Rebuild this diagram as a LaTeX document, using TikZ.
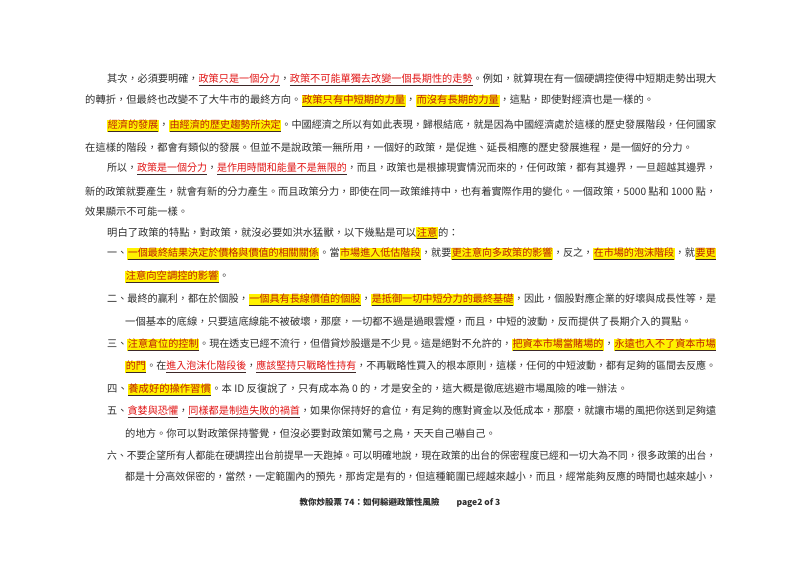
\documentclass[tikz,border=0pt]{standalone}
\usepackage{fontspec}
\setmainfont{Noto Sans CJK TC}
\usetikzlibrary{positioning}
\definecolor{hlred}{RGB}{225,20,20}
\definecolor{hltext}{RGB}{190,30,10}
\definecolor{hlline}{RGB}{60,40,40}
\definecolor{bodygray}{RGB}{45,45,45}
\newsavebox\fitbox
% stretch a full line to the right margin
\newcommand\fitline[2]{\sbox\fitbox{#2}\pgfmathsetmacro\fitratio{#1/\the\wd\fitbox}\scalebox{\fitratio}[1]{\usebox\fitbox}}
\newcommand\hy[1]{{\setlength\fboxsep{0.6pt}\colorbox{yellow}{\color{hlline}\underline{\textcolor{hltext}{#1}}}}}
\newcommand\hr[1]{{\color{hlline}\underline{\textcolor{hlred}{#1}}}}
\begin{document}
\begin{tikzpicture}[x=1pt,y=-1pt,
  row/.style={anchor=west,inner sep=0pt,text=bodygray,font=\fontsize{10.3}{12}\selectfont}]
\useasboundingbox (0,0) rectangle (800,566);
% paragraphs
\node[row] (l1) at (107,80) {\fitline{609pt}{其次，必須要明確，\hr{政策只是一個分力}，\hr{政策不可能單獨去改變一個長期性的走勢}。例如，就算現在有一個硬調控使得中短期走勢出現大}};
\node[row] (l2) at (85,101) {的轉折，但最終也改變不了大牛市的最終方向。\hy{政策只有中短期的力量}，\hy{而沒有長期的力量}，這點，即使對經濟也是一樣的。};
\node[row] (l3) at (107,126) {\fitline{609pt}{\hy{經濟的發展}，\hy{由經濟的歷史趨勢所決定}。中國經濟之所以有如此表現，歸根結底，就是因為中國經濟處於這樣的歷史發展階段，任何國家}};
\node[row] (l4) at (85,148) {在這樣的階段，都會有類似的發展。但並不是說政策一無所用，一個好的政策，是促進、延長相應的歷史發展進程，是一個好的分力。};
\node[row] (l5) at (107,169) {\fitline{609pt}{所以，\hr{政策是一個分力}，\hr{是作用時間和能量不是無限的}，而且，政策也是根據現實情況而來的，任何政策，都有其邊界，一旦超越其邊界，}};
\node[row] (l6) at (85,192) {\fitline{631pt}{新的政策就要產生，就會有新的分力產生。而且政策分力，即使在同一政策維持中，也有着實際作用的變化。一個政策，5000 點和 1000 點，}};
\node[row] (l7) at (85,212) {效果顯示不可能一樣。};
\node[row] (l8) at (107,233) {明白了政策的特點，對政策，就沒必要如洪水猛獸，以下幾點是可以\hy{注意}的：};
% points
\node[row] (l9) at (107,254) {\fitline{609pt}{一、\hy{一個最終結果決定於價格與價值的相關關係}。當\hy{市場進入低估階段}，就要\hy{更注意向多政策的影響}，反之，\hy{在市場的泡沫階段}，就\hy{要更}}};
\node[row] (l10) at (125,277) {\hy{注意向空調控的影響}。};
\node[row] (l11) at (107,300) {\fitline{609pt}{二、最終的贏利，都在於個股，\hy{一個具有長線價值的個股}，\hy{是抵御一切中短分力的最終基礎}，因此，個股對應企業的好壞與成長性等，是}};
\node[row] (l12) at (125,322) {一個基本的底線，只要這底線能不被破壞，那麼，一切都不過是過眼雲煙，而且，中短的波動，反而提供了長期介入的買點。};
\node[row] (l13) at (107,345) {\fitline{609pt}{三、\hy{注意倉位的控制}。現在透支已經不流行，但借貸炒股還是不少見。這是絕對不允許的，\hy{把資本市場當賭場的}，\hy{永遠也入不了資本市場}}};
\node[row] (l14) at (125,367) {\fitline{591pt}{\hy{的門}。在\hr{進入泡沫化階段後}，\hr{應該堅持只戰略性持有}，不再戰略性買入的根本原則，這樣，任何的中短波動，都有足夠的區間去反應。}};
\node[row] (l15) at (107,390) {四、\hy{養成好的操作習慣}。本 ID 反復說了，只有成本為 0 的，才是安全的，這大概是徹底逃避市場風險的唯一辦法。};
\node[row] (l16) at (107,412) {\fitline{609pt}{五、\hr{貪婪與恐懼}，\hr{同樣都是制造失敗的禍首}，如果你保持好的倉位，有足夠的應對資金以及低成本，那麼，就讓市場的風把你送到足夠遠}};
\node[row] (l17) at (125,434) {的地方。你可以對政策保持警覺，但沒必要對政策如驚弓之鳥，天天自己嚇自己。};
\node[row] (l18) at (107,456) {\fitline{609pt}{六、不要企望所有人都能在硬調控出台前提早一天跑掉。可以明確地說，現在政策的出台的保密程度已經和一切大為不同，很多政策的出台，}};
\node[row] (l19) at (125,476) {\fitline{591pt}{都是十分高效保密的，當然，一定範圍內的預先，那肯定是有的，但這種範圍已經越來越小，而且，經常能夠反應的時間也越來越小，}};
% footer
\node[row,anchor=center,font=\fontsize{8.5}{10}\selectfont\bfseries] (foot) at (400,503) {教你炒股票 74：如何躲避政策性風險\hspace{2em}page2 of 3};
\end{tikzpicture}
\end{document}
